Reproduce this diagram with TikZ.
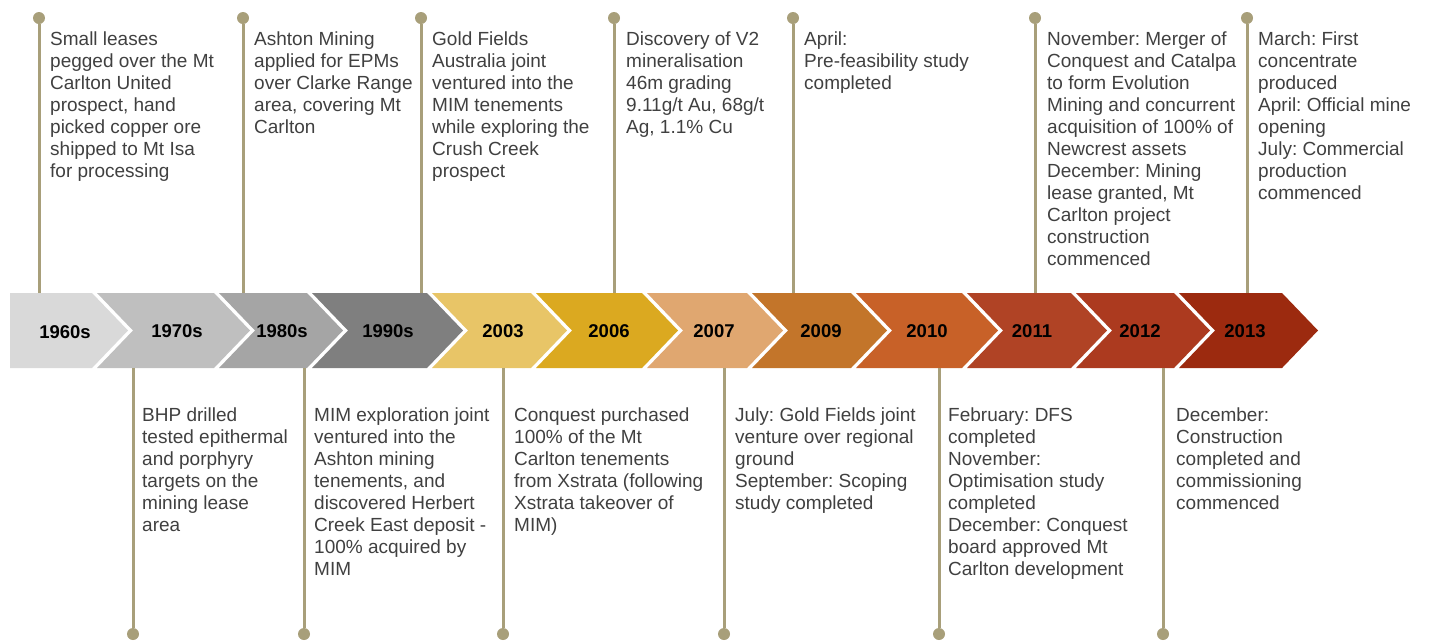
\documentclass[tikz,border=0pt]{standalone}
\usepackage{fontspec}
\setmainfont{Liberation Sans}
\usepackage{xcolor}
\usepackage{tikz}
\usetikzlibrary{positioning}
\definecolor{stemtan}{HTML}{A89F7A}
\definecolor{notegray}{HTML}{404040}
\definecolor{c1960}{HTML}{D9D9D9}
\definecolor{c1970}{HTML}{BFBFBF}
\definecolor{c1980}{HTML}{A5A5A5}
\definecolor{c1990}{HTML}{7F7F7F}
\definecolor{c2003}{HTML}{E8C567}
\definecolor{c2006}{HTML}{DBA920}
\definecolor{c2007}{HTML}{E0A770}
\definecolor{c2009}{HTML}{C3752A}
\definecolor{c2010}{HTML}{C86128}
\definecolor{c2011}{HTML}{B04325}
\definecolor{c2012}{HTML}{AC3A1F}
\definecolor{c2013}{HTML}{9C2A0F}
\tikzset{
    year/.style={inner sep=0pt, text=black, font=\fontsize{18.5}{20}\bfseries\selectfont},
    note/.style={anchor=north west, align=left, inner sep=0pt, text=notegray, font=\fontsize{19}{22}\selectfont\frenchspacing},
    dot/.style={circle, fill=stemtan, inner sep=0pt, minimum size=12pt},
    stem/.style={draw=stemtan, line width=3pt}
}

\begin{document}
\begin{tikzpicture}[x=1pt, y=-1pt]

\useasboundingbox (0,0) rectangle (1431,641);

% chevrons
\fill[c1960] (10,293) -- (92,293) -- (128,330.5) -- (92,368) -- (10,368) -- cycle;
\fill[c1970] (97,293) -- (214,293) -- (250,330.5) -- (214,368) -- (97,368) -- (133,330.5) -- cycle;
\fill[c1980] (219,293) -- (307,293) -- (343,330.5) -- (307,368) -- (219,368) -- (255,330.5) -- cycle;
\fill[c1990] (312,293) -- (427,293) -- (463,330.5) -- (427,368) -- (312,368) -- (348,330.5) -- cycle;
\fill[c2003] (432,293) -- (531,293) -- (567,330.5) -- (531,368) -- (432,368) -- (468,330.5) -- cycle;
\fill[c2006] (536,293) -- (642,293) -- (678,330.5) -- (642,368) -- (536,368) -- (572,330.5) -- cycle;
\fill[c2007] (647,293) -- (747,293) -- (783,330.5) -- (747,368) -- (647,368) -- (683,330.5) -- cycle;
\fill[c2009] (752,293) -- (851,293) -- (887,330.5) -- (851,368) -- (752,368) -- (788,330.5) -- cycle;
\fill[c2010] (856,293) -- (962,293) -- (998,330.5) -- (962,368) -- (856,368) -- (892,330.5) -- cycle;
\fill[c2011] (967,293) -- (1071,293) -- (1107,330.5) -- (1071,368) -- (967,368) -- (1003,330.5) -- cycle;
\fill[c2012] (1076,293) -- (1174,293) -- (1210,330.5) -- (1174,368) -- (1076,368) -- (1112,330.5) -- cycle;
\fill[c2013] (1179,293) -- (1282,293) -- (1318,330.5) -- (1282,368) -- (1179,368) -- (1215,330.5) -- cycle;

\node[year] (y1960) at (65,332)   {1960s};
\node[year] (y1970) at (177,331)  {1970s};
\node[year] (y1980) at (282,331)  {1980s};
\node[year] (y1990) at (388,331)  {1990s};
\node[year] (y2003) at (503,331)  {2003};
\node[year] (y2006) at (609,331)  {2006};
\node[year] (y2007) at (714,331)  {2007};
\node[year] (y2009) at (821,331)  {2009};
\node[year] (y2010) at (927,331)  {2010};
\node[year] (y2011) at (1032,331) {2011};
\node[year] (y2012) at (1140,331) {2012};
\node[year] (y2013) at (1245,331) {2013};

% upper stems
\node[dot] (top1960) at (39,18)   {};
\node[dot] (top1980) at (243,18)  {};
\node[dot] (top1990) at (421,18)  {};
\node[dot] (top2006) at (614,18)  {};
\node[dot] (top2009) at (793,18)  {};
\node[dot] (top2011) at (1035,18) {};
\node[dot] (top2013) at (1247,18) {};
\coordinate (foot1960) at (39,293);
\coordinate (foot1980) at (243,293);
\coordinate (foot1990) at (421,293);
\coordinate (foot2006) at (614,293);
\coordinate (foot2009) at (793,293);
\coordinate (foot2011) at (1035,293);
\coordinate (foot2013) at (1247,293);
\draw[stem] (top1960) -- (foot1960);
\draw[stem] (top1980) -- (foot1980);
\draw[stem] (top1990) -- (foot1990);
\draw[stem] (top2006) -- (foot2006);
\draw[stem] (top2009) -- (foot2009);
\draw[stem] (top2011) -- (foot2011);
\draw[stem] (top2013) -- (foot2013);

% lower stems
\node[dot] (bot1970) at (133,634)  {};
\node[dot] (bot1990) at (304,634)  {};
\node[dot] (bot2003) at (503,634)  {};
\node[dot] (bot2007) at (724,634)  {};
\node[dot] (bot2010) at (939,634)  {};
\node[dot] (bot2012) at (1163,634) {};
\coordinate (head1970) at (133,368);
\coordinate (head1990) at (304,368);
\coordinate (head2003) at (503,368);
\coordinate (head2007) at (724,368);
\coordinate (head2010) at (939,368);
\coordinate (head2012) at (1163,368);
\draw[stem] (bot1970) -- (head1970);
\draw[stem] (bot1990) -- (head1990);
\draw[stem] (bot2003) -- (head2003);
\draw[stem] (bot2007) -- (head2007);
\draw[stem] (bot2010) -- (head2010);
\draw[stem] (bot2012) -- (head2012);

% upper notes
\node[note] (n1960) at (50,31.5) {Small leases\\pegged over the Mt\\Carlton United\\prospect, hand\\picked copper ore\\shipped to Mt Isa\\for processing};
\node[note] (n1980) at (254,31.5) {Ashton Mining\\applied for EPMs\\over Clarke Range\\area, covering Mt\\Carlton};
\node[note] (n1990) at (432,31.5) {Gold Fields\\Australia joint\\ventured into the\\MIM tenements\\while exploring the\\Crush Creek\\prospect};
\node[note] (n2006) at (626,31.5) {Discovery of V2\\mineralisation\\46m grading\\9.11g/t Au, 68g/t\\Ag, 1.1\% Cu};
\node[note] (n2009) at (804,31.5) {April:\\Pre-feasibility study\\completed};
\node[note] (n2011) at (1047,31.5) {November: Merger of\\Conquest and Catalpa\\to form Evolution\\Mining and concurrent\\acquisition of 100\% of\\Newcrest assets\\December: Mining\\lease granted, Mt\\Carlton project\\construction\\commenced};
\node[note] (n2013) at (1258,31.5) {March: First\\concentrate\\produced\\April: Official mine\\opening\\July: Commercial\\production\\commenced};

% lower notes
\node[note] (n1970) at (142,407.5) {BHP drilled\\tested epithermal\\and porphyry\\targets on the\\mining lease\\area};
\node[note] (n1990b) at (314,407.5) {MIM exploration joint\\ventured into the\\Ashton mining\\tenements, and\\discovered Herbert\\Creek East deposit -\\100\% acquired by\\MIM};
\node[note] (n2003) at (514,407.5) {Conquest purchased\\100\% of the Mt\\Carlton tenements\\from Xstrata (following\\Xstrata takeover of\\MIM)};
\node[note] (n2007) at (735,407.5) {July: Gold Fields joint\\venture over regional\\ground\\September: Scoping\\study completed};
\node[note] (n2010) at (948,407.5) {February: DFS\\completed\\November:\\Optimisation study\\completed\\December: Conquest\\board approved Mt\\Carlton development};
\node[note] (n2012) at (1176,407.5) {December:\\Construction\\completed and\\commissioning\\commenced};

\end{tikzpicture}
\end{document}
